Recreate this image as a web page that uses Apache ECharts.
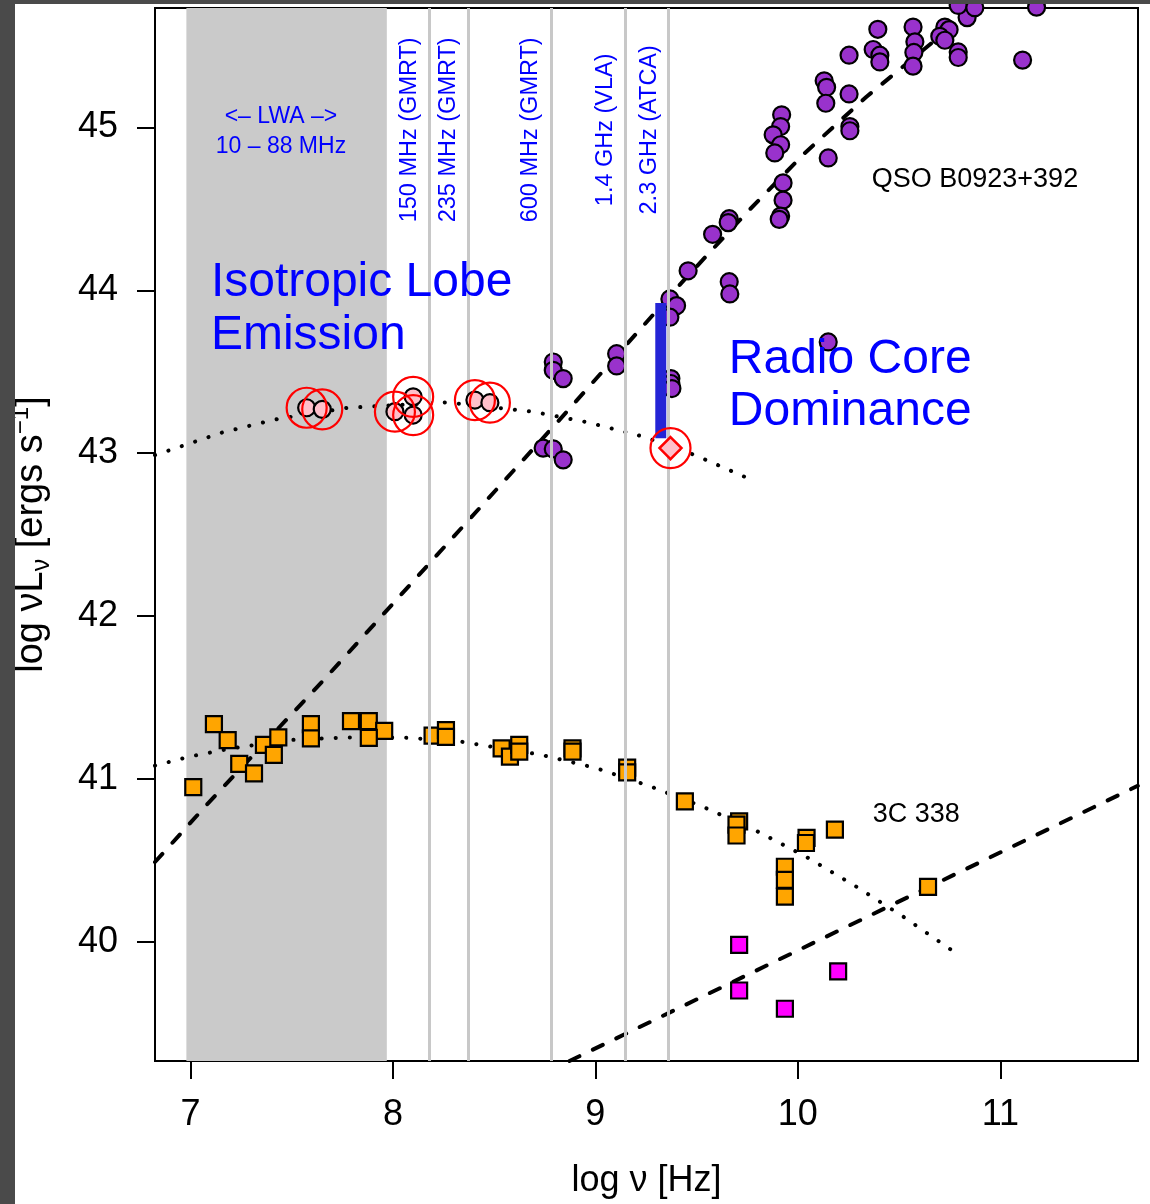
<!DOCTYPE html>
<html><head><meta charset="utf-8">
<script src="https://cdn.jsdelivr.net/npm/echarts@6/dist/echarts.min.js"></script>
<style>html,body{margin:0;padding:0;background:#fff}#c{width:1150px;height:1204px}</style>
</head><body><div id="c"></div>
<script>
const FONT = "'Liberation Sans', Arial, Helvetica, sans-serif";
const xTicks = [7, 8, 9, 10, 11];
const yTicks = [40, 41, 42, 43, 44, 45];

// QSO B0923+392 photometry (log nu, log nuLnu)
const qsoPoints = [
  [8.742,43.031],[8.792,43.026],[8.841,42.959],
  [8.792,43.560],[8.792,43.509],[8.841,43.458],
  [9.105,43.611],[9.105,43.536],
  [9.368,43.947],[9.401,43.906],[9.368,43.835],
  [9.373,43.458],[9.373,43.428],[9.378,43.397],
  [9.458,44.120],[9.579,44.344],
  [9.661,44.440],[9.656,44.416],
  [9.661,44.053],[9.664,43.978],
  [9.920,45.078],[9.915,45.006],[9.878,44.955],[9.915,44.894],[9.886,44.844],
  [9.927,44.660],[9.927,44.554],[9.915,44.456],[9.908,44.436],
  [10.150,43.683],
  [10.130,45.287],[10.142,45.247],[10.138,45.149],
  [10.253,45.206],[10.257,45.006],[10.257,44.980],
  [10.150,44.813],
  [10.253,45.444],[10.372,45.479],[10.405,45.444],[10.405,45.403],
  [10.395,45.603],
  [10.569,45.617],[10.578,45.526],[10.573,45.461],[10.569,45.377],
  [10.726,45.617],[10.747,45.601],[10.701,45.560],[10.726,45.536],
  [10.836,45.675],[10.792,45.750],[10.874,45.736],
  [10.792,45.464],[10.792,45.430],
  [11.110,45.414],[11.179,45.739]
];
// isotropic lobe points (pink)
const lobePoints = [
  [7.574,43.279],[7.651,43.269],[8.010,43.255],[8.100,43.346],
  [8.100,43.234],[8.405,43.326],[8.479,43.310]
];
const corePoint = [[9.371,43.031]];
// 3C 338 (orange)
const c338Points = [
  [7.116,41.336],[7.184,41.238],[7.014,40.949],[7.241,41.092],[7.314,41.034],
  [7.363,41.208],[7.412,41.147],[7.434,41.254],[7.595,41.336],[7.595,41.248],
  [7.793,41.354],[7.881,41.354],[7.957,41.295],[7.881,41.252],
  [8.196,41.265],[8.262,41.299],[8.262,41.258],
  [8.537,41.187],[8.578,41.136],[8.624,41.208],[8.624,41.167],
  [8.887,41.187],[8.887,41.167],
  [9.157,41.069],[9.157,41.039],
  [9.442,40.861],
  [9.710,40.739],[9.697,40.719],[9.697,40.652],
  [10.043,40.637],[10.040,40.606],[10.183,40.688],
  [9.936,40.460],[9.936,40.379],[9.936,40.277],
  [10.643,40.336]
];
// 3C 338 core (magenta)
const c338Core = [[9.710,39.980],[9.710,39.700],[9.936,39.588],[10.199,39.818]];

// model curves
const lobeCurve = [
  [6.825,42.988],[7.159,43.128],[7.431,43.210],[7.779,43.279],[8.265,43.312],
  [8.690,43.255],[8.964,43.189],[9.236,43.102],[9.496,42.986],[9.763,42.841]
];
const c338Curve = [
  [6.825,41.081],[6.994,41.136],[7.203,41.187],[7.483,41.238],[7.763,41.254],
  [8.043,41.254],[8.318,41.232],[8.734,41.147],[9.006,41.065],[9.273,40.953],
  [9.536,40.826],[9.793,40.682],[10.040,40.522],[10.283,40.342],[10.520,40.154],
  [10.756,39.951]
];
const qsoModel = [
  [6.825,40.489],[7.088,40.851],[7.664,41.615],[8.800,43.173],[9.442,44.069],
  [9.755,44.487],[10.035,44.844],[10.339,45.189],[10.668,45.526],[10.923,45.733]
];
const c338Model = [[8.872,39.267],[11.679,40.957]];
const coreBar = [[9.323,43.092],[9.323,43.923]];

const bandLWA = [6.98, 7.97];
const obsFreqs = [8.176, 8.371, 8.778, 9.146, 9.362];
const obsLabels = ['150 MHz (GMRT)', '235 MHz (GMRT)', '600 MHz (GMRT)', '1.4 GHz (VLA)', '2.3 GHz (ATCA)'];

const chart = echarts.init(document.getElementById('c'), null, {renderer: 'canvas'});

const axisCommon = {
  type: 'value',
  splitLine: {show: false},
  axisLine: {show: false},
  axisTick: {show: true, inside: false, length: 18, lineStyle: {color: '#000', width: 2}},
  nameTextStyle: {color: '#000', fontFamily: FONT, fontSize: 36}
};

const option = {
  animation: false,
  backgroundColor: '#fff',
  grid: {left: 155, top: 8, right: 12, bottom: 138, show: true, borderColor: '#000', borderWidth: 2, backgroundColor: '#fff'},
  xAxis: Object.assign({}, axisCommon, {
    min: 6.825, max: 11.68,
    axisTick: Object.assign({}, axisCommon.axisTick, {customValues: xTicks}),
    axisLabel: {customValues: xTicks, fontSize: 36, color: '#000', fontFamily: FONT, margin: 36},
    name: 'log ν [Hz]', nameLocation: 'middle', nameGap: 102
  }),
  yAxis: Object.assign({}, axisCommon, {
    min: 39.267, max: 45.734,
    axisTick: Object.assign({}, axisCommon.axisTick, {customValues: yTicks}),
    axisLabel: {customValues: yTicks, fontSize: 36, color: '#000', fontFamily: FONT, margin: 37},
    name: 'log νL{sub|ν} [ergs s{sup|−1}]', nameLocation: 'middle', nameGap: 100,
    nameTextStyle: {color: '#000', fontFamily: FONT, fontSize: 38, lineHeight: 46,
      rich: {
        sub: {fontSize: 25, lineHeight: 25, verticalAlign: 'bottom', fontFamily: FONT, color: '#000'},
        sup: {fontSize: 24, lineHeight: 24, verticalAlign: 'top', fontFamily: FONT, color: '#000'}
      }}
  }),
  series: [
    {
      type: 'scatter', data: [], z: 1, silent: true,
      markArea: {silent: true, itemStyle: {color: '#cacaca'}, data: [[{xAxis: bandLWA[0]}, {xAxis: bandLWA[1]}]]},
      markLine: {silent: true, symbol: ['none', 'none'], label: {show: false},
        lineStyle: {color: '#c8c8c8', width: 3, type: 'solid'},
        data: obsFreqs.map(v => ({xAxis: v}))}
    },
    {type: 'line', data: lobeCurve, showSymbol: false, z: 3, silent: true,
      lineStyle: {color: '#000', width: 4, type: [0.1, 14], cap: 'round'}},
    {type: 'line', data: c338Curve, showSymbol: false, z: 3, silent: true,
      lineStyle: {color: '#000', width: 4, type: [0.1, 14], cap: 'round'}},
    {type: 'line', data: qsoModel, showSymbol: false, z: 3, silent: true,
      lineStyle: {color: '#000', width: 4, type: [11, 15], cap: 'round'}},
    {type: 'line', data: c338Model, showSymbol: false, z: 3, silent: true,
      lineStyle: {color: '#000', width: 4, type: [11, 15], cap: 'round'}},
    {type: 'scatter', data: c338Points, symbol: 'rect', symbolSize: 16, z: 4, silent: true,
      itemStyle: {color: '#FFA500', borderColor: '#000', borderWidth: 2.2, opacity: 1}},
    {type: 'scatter', data: c338Core, symbol: 'rect', symbolSize: 16, z: 4, silent: true,
      itemStyle: {color: '#FF00FF', borderColor: '#000', borderWidth: 2.2, opacity: 1}},
    {type: 'scatter', data: qsoPoints, symbol: 'circle', symbolSize: 17, z: 4, clip: false, silent: true,
      itemStyle: {color: '#9932CC', borderColor: '#000', borderWidth: 2.2, opacity: 1}},
    {type: 'line', data: coreBar, showSymbol: false, z: 5, silent: true,
      lineStyle: {color: '#2424D6', width: 11, type: 'solid', cap: 'butt'}},
    {type: 'scatter', data: lobePoints, symbol: 'circle', symbolSize: 17, z: 5, silent: true,
      itemStyle: {color: '#FFC0CB', borderColor: '#000', borderWidth: 2.2, opacity: 1}},
    {type: 'scatter', data: corePoint, symbol: 'diamond', symbolSize: 22, z: 5, silent: true,
      itemStyle: {color: '#FFC0CB', borderColor: '#FF0000', borderWidth: 2.5, opacity: 1}},
    {type: 'scatter', data: lobePoints.concat(corePoint), symbol: 'circle', symbolSize: 40, z: 6, silent: true,
      itemStyle: {color: 'rgba(0,0,0,0)', borderColor: '#FF0000', borderWidth: 2.2, opacity: 1}}
  ]
};
chart.setOption(option);

function P(x, y) { return chart.convertToPixel({gridIndex: 0}, [x, y]); }
function txt(x, y, text, size, color, align, rot) {
  const p = P(x, y);
  return {type: 'text', x: p[0], y: p[1], rotation: rot || 0, z: 100, silent: true,
    style: {text: text, fill: color, fontSize: size, fontFamily: FONT,
      align: align, textAlign: align, verticalAlign: 'middle', textVerticalAlign: 'middle'}};
}
const BLUE = '#0000FF';
const graphics = [
  txt(7.447, 45.066, '<– LWA –>', 23, BLUE, 'center'),
  txt(7.447, 44.882, '10 – 88 MHz', 23, BLUE, 'center'),
  txt(7.101, 44.049, 'Isotropic Lobe', 48, BLUE, 'left'),
  txt(7.101, 43.719, 'Emission', 48, BLUE, 'left'),
  txt(9.659, 43.574, 'Radio Core', 48, BLUE, 'left'),
  txt(9.659, 43.253, 'Dominance', 48, BLUE, 'left'),
  txt(10.365, 44.681, 'QSO B0923+392', 27, '#000', 'left'),
  txt(10.370, 40.782, '3C 338', 27, '#000', 'left')
];
obsFreqs.forEach((f, i) => {
  graphics.push(txt(f - 0.096, 44.986, obsLabels[i], 23.5, BLUE, 'center', Math.PI / 2));
});
graphics.push({type: 'rect', z: 200, silent: true, shape: {x: 0, y: 0, width: 15, height: 1204}, style: {fill: '#4a4a4a'}});
graphics.push({type: 'rect', z: 200, silent: true, shape: {x: 0, y: 0, width: 1150, height: 4}, style: {fill: '#4a4a4a'}});
chart.setOption({graphic: graphics});
</script>
</body></html>
